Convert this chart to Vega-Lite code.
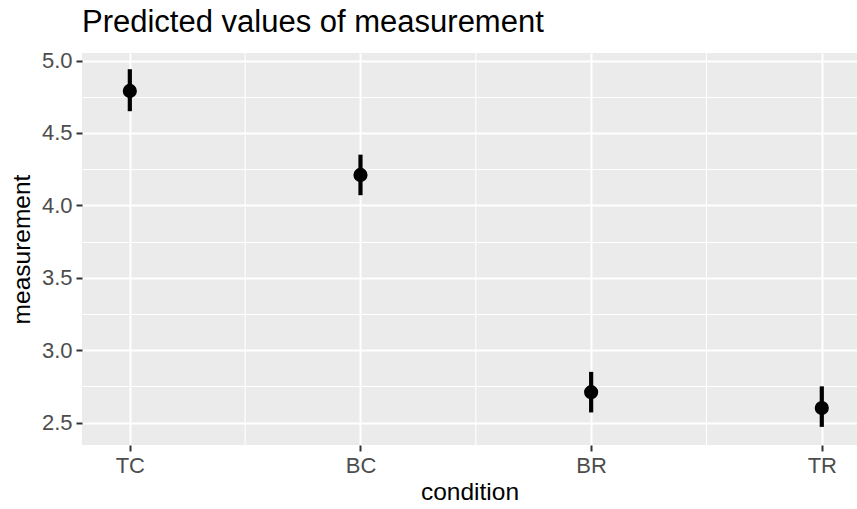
{
  "$schema": "https://vega.github.io/schema/vega-lite/v6.json",
  "width": 775,
  "height": 392,
  "autosize": {"type": "none"},
  "padding": {"left": 82, "top": 53, "right": 0, "bottom": 64},
  "background": "white",
  "title": {
    "text": "Predicted values of measurement",
    "anchor": "start",
    "frame": "group",
    "font": "Liberation Sans",
    "fontSize": 31,
    "fontWeight": "normal",
    "color": "#000000",
    "offset": 11
  },
  "config": {
    "view": {"fill": "#EBEBEB", "stroke": null},
    "font": "Liberation Sans"
  },
  "data": {
    "values": [
      {"condition": "TC", "predicted": 4.79, "lower": 4.65, "upper": 4.94},
      {"condition": "BC", "predicted": 4.21, "lower": 4.07, "upper": 4.35},
      {"condition": "BR", "predicted": 2.71, "lower": 2.57, "upper": 2.85},
      {"condition": "TR", "predicted": 2.6, "lower": 2.47, "upper": 2.75}
    ]
  },
  "encoding": {
    "x": {
      "field": "condition",
      "type": "nominal",
      "sort": null,
      "scale": {"type": "point", "padding": 0.18, "align": 0.576},
      "axis": {
        "title": "condition",
        "titleFontSize": 24.5,
        "titleFontWeight": "normal",
        "titleColor": "#000000",
        "titlePadding": 4,
        "labelFontSize": 22,
        "labelColor": "#4D4D4D",
        "labelAngle": 0,
        "labelPadding": 4,
        "tickSize": 6,
        "tickColor": "#333333",
        "tickWidth": 2,
        "domain": false,
        "grid": true,
        "gridColor": "#FFFFFF",
        "gridWidth": 2
      }
    }
  },
  "layer": [
    {
      "mark": {
        "type": "rule",
        "color": "#FFFFFF",
        "strokeWidth": 1.1,
        "clip": true,
        "xOffset": {"expr": "(scale('x','BC') - scale('x','TC')) / 2"}
      },
      "encoding": {}
    },
    {
      "mark": {"type": "rule", "color": "#000000", "strokeWidth": 4.2},
      "encoding": {
        "y": {
          "field": "lower",
          "type": "quantitative",
          "scale": {"domain": [2.345, 5.052], "nice": false, "zero": false},
          "axis": {
            "orient": "right",
            "values": [2.75, 3.25, 3.75, 4.25, 4.75],
            "grid": true,
            "gridColor": "#FFFFFF",
            "gridWidth": 1.1,
            "labels": false,
            "ticks": false,
            "domain": false,
            "title": null
          }
        },
        "y2": {"field": "upper"}
      }
    },
    {
      "mark": {"type": "circle", "size": 200, "opacity": 1, "color": "#000000"},
      "encoding": {
        "y": {
          "field": "predicted",
          "type": "quantitative",
          "axis": {
            "title": "measurement",
            "values": [2.5, 3, 3.5, 4, 4.5, 5],
            "format": ".1f",
            "labelFontSize": 22,
            "labelColor": "#4D4D4D",
            "labelPadding": 4,
            "tickSize": 6,
            "tickColor": "#333333",
            "tickWidth": 2,
            "domain": false,
            "grid": true,
            "gridColor": "#FFFFFF",
            "gridWidth": 2,
            "titleFontSize": 24.5,
            "titleFontWeight": "normal",
            "titleColor": "#000000",
            "titlePadding": 7
          }
        }
      }
    }
  ],
  "resolve": {"axis": {"y": "independent"}}
}
